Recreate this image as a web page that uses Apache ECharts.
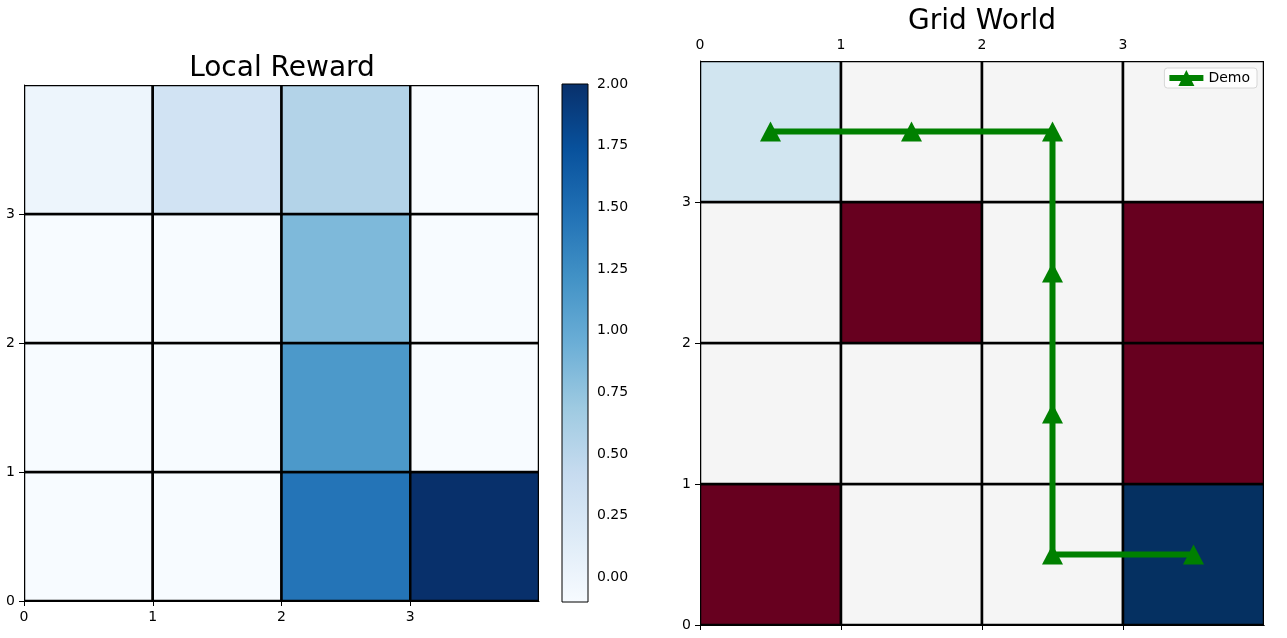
<!DOCTYPE html>
<html>
<head>
<meta charset="utf-8">
<script src="https://cdn.jsdelivr.net/npm/echarts@6/dist/echarts.min.js"></script>
<style>
html,body{margin:0;padding:0;background:#fff;}
#main{width:1287px;height:638px;}
</style>
</head>
<body>
<div id="main"></div>
<script>
// ---- Data ----
var gridTicks = [0, 1, 2, 3];
var colorbarTicks = [0, 0.25, 0.5, 0.75, 1.0, 1.25, 1.5, 1.75, 2.0];
var rewardMin = -0.1;
var rewardMax = 2.0;
// local reward, rows listed from y=0 (bottom) to y=3 (top), columns x=0..3
var rewardRow0 = [-0.1, -0.1, 1.45, 2.0];
var rewardRow1 = [-0.1, -0.1, 1.15, -0.1];
var rewardRow2 = [-0.1, -0.1, 0.85, -0.1];
var rewardRow3 = [0.0, 0.3, 0.55, -0.1];
var rewardRows = [rewardRow0, rewardRow1, rewardRow2, rewardRow3];
// grid world cell types: 0 empty, 1 wall, 2 goal, 3 start ; rows from y=0 to y=3
var worldRow0 = [1, 0, 0, 2];
var worldRow1 = [0, 0, 0, 1];
var worldRow2 = [0, 1, 0, 1];
var worldRow3 = [3, 0, 0, 0];
var worldRows = [worldRow0, worldRow1, worldRow2, worldRow3];
// demo path
var pathX = [0.5, 1.5, 2.5, 2.5, 2.5, 2.5, 3.5];
var pathY = [3.5, 3.5, 3.5, 2.5, 1.5, 0.5, 0.5];

// ---- Styles ----
var blues = ['#f7fbff','#deebf7','#c6dbef','#9ecae1','#6baed6','#4292c6','#2171b5','#08519c','#08306b'];
var worldColors = ['#f5f5f5', '#67001f', '#053061', '#d1e5f0'];
var fontFam = 'DejaVu Sans';

var rewardData = [];
rewardRows.forEach(function (row, y) {
  row.forEach(function (v, x) { rewardData.push([x, y, v]); });
});
var worldData = [];
worldRows.forEach(function (row, y) {
  row.forEach(function (t, x) { worldData.push([x, y, t]); });
});
var pathData = pathX.map(function (x, i) { return [x, pathY[i]]; });

function cellRender(colorFn, lw) {
  return function (params, api) {
    var x = api.value(0), y = api.value(1);
    var p0 = api.coord([x, y + 1]);
    var p1 = api.coord([x + 1, y]);
    return {
      type: 'rect',
      shape: { x: p0[0], y: p0[1], width: p1[0] - p0[0], height: p1[1] - p0[1] },
      style: { fill: colorFn(api), stroke: '#000', lineWidth: lw }
    };
  };
}

var labelStyle = { color: '#000', fontSize: 14, fontFamily: fontFam, margin: 9 };
var axisLineStyle = { show: true, lineStyle: { color: '#000', width: 1 } };
var tickStyle = { show: true, length: 5, lineStyle: { color: '#000', width: 1 }, customValues: gridTicks };

var stops = blues.map(function (c, i) { return { offset: i / (blues.length - 1), color: c }; });

var option = {
  backgroundColor: '#fff',
  animation: false,
  title: [
    { text: 'Local Reward', left: 282, top: 55, textAlign: 'center', padding: 0,
      textStyle: { fontSize: 28, fontWeight: 'normal', color: '#000', fontFamily: fontFam } },
    { text: 'Grid World', left: 982, top: 8, textAlign: 'center', padding: 0,
      textStyle: { fontSize: 28, fontWeight: 'normal', color: '#000', fontFamily: fontFam } }
  ],
  legend: {
    data: ['Demo'],
    right: 30, top: 68,
    orient: 'vertical',
    itemWidth: 34, itemHeight: 20,
    itemGap: 4,
    padding: [2, 7, 2, 2],
    borderColor: '#d6d6d6', borderWidth: 1, borderRadius: 3,
    backgroundColor: 'rgba(255,255,255,0.8)',
    lineStyle: { width: 6 },
    textStyle: { fontSize: 14, fontFamily: fontFam, color: '#000' }
  },
  visualMap: [{
    type: 'continuous', show: false, seriesIndex: 0, dimension: 2,
    min: rewardMin, max: rewardMax, inRange: { color: blues }
  }],
  grid: [
    { left: 24, top: 85, width: 515, height: 516 },
    { left: 562, top: 84, width: 26, height: 518 },
    { left: 700, top: 61, width: 564, height: 564 }
  ],
  xAxis: [
    { gridIndex: 0, type: 'value', min: 0, max: 4, position: 'bottom',
      axisLine: axisLineStyle, axisTick: tickStyle,
      axisLabel: Object.assign({ customValues: gridTicks }, labelStyle), splitLine: { show: false } },
    { gridIndex: 1, type: 'value', min: 0, max: 1, show: false },
    { gridIndex: 2, type: 'value', min: 0, max: 4, position: 'top',
      axisLine: axisLineStyle, axisTick: tickStyle,
      axisLabel: Object.assign({ customValues: gridTicks }, labelStyle), splitLine: { show: false } },
    { gridIndex: 2, type: 'value', min: 0, max: 4, position: 'bottom',
      axisLine: axisLineStyle, axisTick: tickStyle,
      axisLabel: { show: false }, splitLine: { show: false } }
  ],
  yAxis: [
    { gridIndex: 0, type: 'value', min: 0, max: 4,
      axisLine: axisLineStyle, axisTick: tickStyle,
      axisLabel: Object.assign({ customValues: gridTicks }, labelStyle), splitLine: { show: false } },
    { gridIndex: 1, type: 'value', min: rewardMin, max: rewardMax, position: 'right',
      axisLine: { show: false },
      axisTick: { show: true, length: 5, lineStyle: { color: '#000', width: 1 }, customValues: colorbarTicks },
      axisLabel: Object.assign({ customValues: colorbarTicks, formatter: function (v) { return v.toFixed(2); } }, labelStyle),
      splitLine: { show: false } },
    { gridIndex: 2, type: 'value', min: 0, max: 4,
      axisLine: axisLineStyle, axisTick: tickStyle,
      axisLabel: Object.assign({ customValues: gridTicks }, labelStyle), splitLine: { show: false } }
  ],
  series: [
    {
      type: 'custom', xAxisIndex: 0, yAxisIndex: 0,
      renderItem: cellRender(function (api) { return api.visual('color'); }, 2.5),
      encode: { x: 0, y: 1 },
      data: rewardData, clip: true, z: 2
    },
    {
      type: 'custom', xAxisIndex: 1, yAxisIndex: 1,
      renderItem: function (params, api) {
        var p0 = api.coord([0, rewardMax]);
        var p1 = api.coord([1, rewardMin]);
        return {
          type: 'rect',
          shape: { x: p0[0], y: p0[1], width: p1[0] - p0[0], height: p1[1] - p0[1] },
          style: { fill: new echarts.graphic.LinearGradient(0, 1, 0, 0, stops), stroke: '#000', lineWidth: 1 }
        };
      },
      data: [[0, 0]], z: 2
    },
    {
      type: 'custom', xAxisIndex: 2, yAxisIndex: 2,
      renderItem: cellRender(function (api) { return worldColors[api.value(2)]; }, 2.5),
      encode: { x: 0, y: 1 },
      data: worldData, clip: true, z: 2
    },
    {
      name: 'Demo', type: 'line', xAxisIndex: 2, yAxisIndex: 2,
      data: pathData,
      symbol: 'triangle', symbolSize: [21, 20], showSymbol: true,
      itemStyle: { color: '#008000' },
      lineStyle: { color: '#008000', width: 6 },
      z: 5
    }
  ]
};

var chart = echarts.init(document.getElementById('main'));
chart.setOption(option);
</script>
</body>
</html>
